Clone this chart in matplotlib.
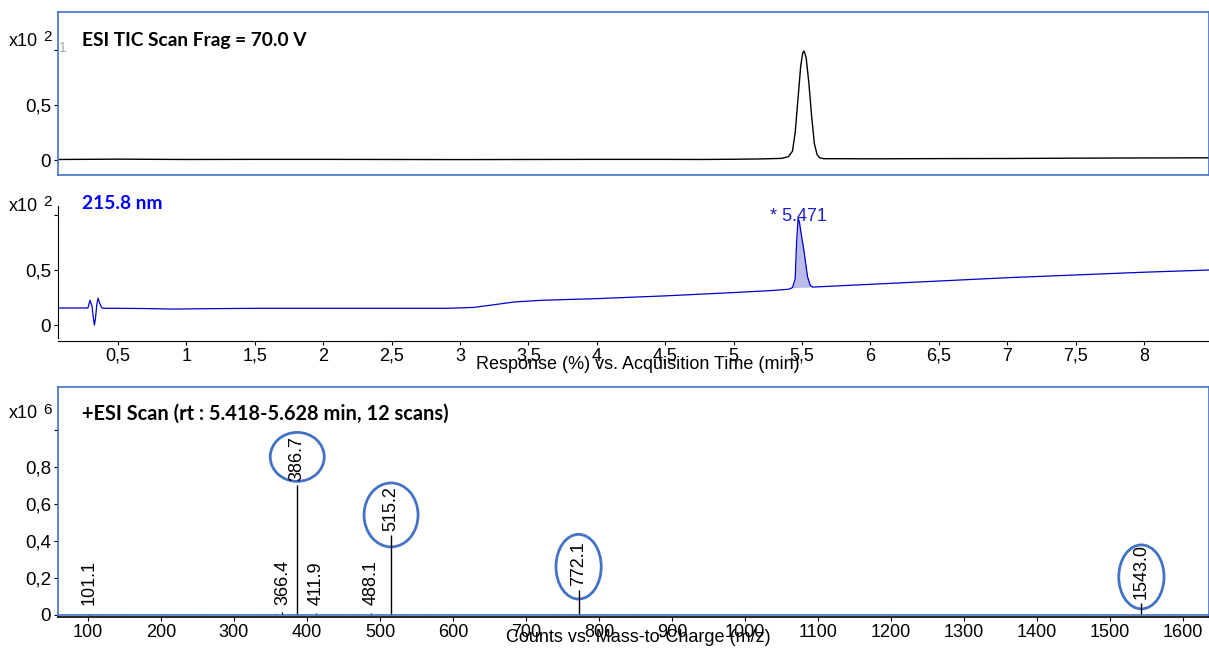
import matplotlib
matplotlib.use("Agg")
import matplotlib.pyplot as plt
from matplotlib.patches import Ellipse

# ---------------- data ----------------
tic_time = [0.06, 0.5, 1.0, 1.5, 2.0, 2.5, 3.0, 3.5, 4.0, 4.5, 4.75, 5.0, 5.2, 5.35, 5.40,
            5.43, 5.45, 5.47, 5.49, 5.505, 5.515, 5.53, 5.55, 5.57, 5.59, 5.61, 5.63, 5.66,
            5.8, 6.0, 6.5, 7.0, 7.5, 8.0, 8.475]
tic_resp = [0.005, 0.008, 0.005, 0.006, 0.006, 0.005, 0.004, 0.005, 0.006, 0.006, 0.005, 0.007,
            0.010, 0.015, 0.03, 0.08, 0.25, 0.55, 0.85, 0.975, 0.99, 0.93, 0.70, 0.40, 0.15,
            0.05, 0.02, 0.012, 0.012, 0.011, 0.013, 0.014, 0.017, 0.019, 0.02]

uv_time = [0.06, 0.28, 0.295, 0.31, 0.32, 0.327, 0.335, 0.345, 0.354, 0.365, 0.38, 0.39, 0.5,
           0.7, 0.9, 1.1, 1.5, 2.0, 2.5, 2.9, 3.1, 3.25, 3.4, 3.6, 4.0, 4.5, 4.75, 5.0, 5.3,
           5.40, 5.43, 5.45, 5.46, 5.471, 5.48, 5.50, 5.51, 5.54, 5.56, 5.58, 6.0, 6.5, 7.0,
           7.5, 8.0, 8.475]
uv_resp = [0.155, 0.155, 0.225, 0.17, 0.06, 0.0, 0.06, 0.19, 0.245, 0.2, 0.16, 0.152, 0.152,
           0.15, 0.145, 0.148, 0.152, 0.152, 0.152, 0.152, 0.16, 0.185, 0.21, 0.225, 0.24, 0.265,
           0.28, 0.295, 0.315, 0.325, 0.34, 0.42, 0.75, 0.97, 0.94, 0.78, 0.71, 0.44, 0.36, 0.345,
           0.37, 0.40, 0.43, 0.455, 0.48, 0.50]
uv_peak_rt = 5.471
uv_peak_start, uv_peak_end = 5.43, 5.58

ms_mz = [101.1, 366.4, 386.7, 411.9, 488.1, 515.2, 772.1, 1543.0]
ms_counts = [0.006, 0.015, 0.70, 0.008, 0.008, 0.43, 0.135, 0.065]
ms_labels = ["101.1", "366.4", "386.7", "411.9", "488.1", "515.2", "772.1", "1543.0"]
circled = ["386.7", "515.2", "772.1", "1543.0"]

noise_mz = [120, 150, 200, 260, 300, 340, 350, 358, 375, 395, 420, 430, 450, 470, 500, 530,
            560, 600, 700, 740, 760, 790, 810, 850, 1000, 1200, 1460, 1500, 1530, 1560, 1580]
noise_counts = [0.004, 0.003, 0.002, 0.003, 0.003, 0.005, 0.006, 0.007, 0.006, 0.006, 0.006,
                0.005, 0.005, 0.005, 0.005, 0.006, 0.004, 0.003, 0.004, 0.005, 0.006, 0.006,
                0.005, 0.003, 0.002, 0.002, 0.003, 0.004, 0.006, 0.005, 0.004]

time_ticks = [0.5, 1, 1.5, 2, 2.5, 3, 3.5, 4, 4.5, 5, 5.5, 6, 6.5, 7, 7.5, 8]
time_ticklabels = ["0,5", "1", "1,5", "2", "2,5", "3", "3,5", "4", "4,5", "5", "5,5", "6",
                   "6,5", "7", "7,5", "8"]
resp_ticks = [0, 0.5, 1]
resp_ticklabels = ["0", "0,5", ""]
mz_ticks = list(range(100, 1700, 100))
cnt_ticks = [0, 0.2, 0.4, 0.6, 0.8, 1.0]
cnt_ticklabels = ["0", "0,2", "0,4", "0,6", "0,8", ""]

# ---------------- figure ----------------
W, H = 1209, 648
fig = plt.figure(figsize=(W / 100, H / 100), dpi=100)
plt.rcParams['font.family'] = ['Liberation Sans', 'DejaVu Sans']
BORDER = "#4472C4"
TFONT = "Lato"
FS = 13
TFS = 13.8


def box(l, t, r, b):
    return [l / W, (H - b) / H, (r - l) / W, (b - t) / H]


ax1 = fig.add_axes(box(58, 12, 1209, 175))
ax2 = fig.add_axes(box(58, 190, 1209, 341))
ax3 = fig.add_axes(box(58, 387, 1209, 617))

# TIC panel
ax1.plot(tic_time, tic_resp, color="black", lw=1.0)
ax1.set_xlim(0.061, 8.475)
ax1.set_ylim(-0.136, 1.345)
ax1.set_xticks([])
ax1.set_yticks(resp_ticks)
ax1.set_yticklabels(resp_ticklabels)
for s in ax1.spines.values():
    s.set_color(BORDER)
    s.set_linewidth(1.2)
ax1.tick_params(axis='y', labelsize=FS + 0.5, length=3, pad=2)
ax1.text(0.021, 0.825, "ESI TIC Scan Frag = 70.0 V", transform=ax1.transAxes,
         fontfamily=TFONT, fontweight="bold", fontsize=TFS, va="center", ha="left")

# UV panel
seg_t = [t for t in uv_time if uv_peak_start <= t <= uv_peak_end]
seg_v = [v for t, v in zip(uv_time, uv_resp) if uv_peak_start <= t <= uv_peak_end]
b0 = seg_v[0]
b1 = seg_v[-1]
base = [b0 + (b1 - b0) * (t - seg_t[0]) / (seg_t[-1] - seg_t[0]) for t in seg_t]
ax2.fill_between(seg_t, base, seg_v, color="#B4B4E6", alpha=0.9, lw=0)
ax2.plot(uv_time, uv_resp, color="#0000CC", lw=0.9)
ax2.text(uv_peak_rt, 0.99, "* 5.471", color="#1E1ECC", fontsize=FS, ha="center", va="center")
ax2.set_xlim(0.061, 8.475)
ax2.set_ylim(-0.145, 1.227)
ax2.set_xticks(time_ticks)
ax2.set_xticklabels(time_ticklabels)
ax2.set_yticks(resp_ticks)
ax2.set_yticklabels(resp_ticklabels)
ax2.spines['top'].set_visible(False)
ax2.spines['right'].set_visible(False)
ax2.spines['left'].set_bounds(-0.12, 1.08)
ax2.tick_params(axis='x', labelsize=FS, length=3, pad=2)
ax2.tick_params(axis='y', labelsize=FS + 0.5, length=3, pad=2)
ax2.text(0.021, 0.912, "215.8 nm", transform=ax2.transAxes, color="#0000FF",
         fontfamily=TFONT, fontweight="bold", fontsize=TFS, va="center", ha="left")
fig.text(638 / W, 1 - 364 / H, "Response (%) vs. Acquisition Time (min)", fontsize=FS,
         ha="center", va="center")

# MS panel
ax3.vlines(noise_mz, 0, noise_counts, color="#AAAAAA", lw=0.8)
ax3.vlines(ms_mz, 0, ms_counts, color="black", lw=1.0)
ax3.set_xlim(59, 1635.6)
ax3.set_ylim(-0.012, 1.232)
ax3.set_xticks(mz_ticks)
ax3.set_yticks(cnt_ticks)
ax3.set_yticklabels(cnt_ticklabels)
for s in ax3.spines.values():
    s.set_color(BORDER)
    s.set_linewidth(1.2)
ax3.spines['bottom'].set_color("black")
ax3.axhline(0.0, color=BORDER, lw=1.2)
ax3.tick_params(axis='x', labelsize=FS, length=3, pad=2)
ax3.tick_params(axis='y', labelsize=FS + 0.5, length=3, pad=2)
for mz, c, lab in zip(ms_mz, ms_counts, ms_labels):
    ax3.annotate(lab, (mz, max(c, 0.03)), xytext=(0, 3), textcoords="offset points",
                 rotation=90, ha="center", va="bottom", fontsize=FS)
ellipse_specs = {"386.7": (0.854, 74, 0.265), "515.2": (0.54, 74, 0.346),
                 "772.1": (0.26, 62, 0.35), "1543.0": (0.205, 62, 0.346)}
for mz, lab in zip(ms_mz, ms_labels):
    if lab in circled:
        cy, w, h = ellipse_specs[lab]
        ax3.add_patch(Ellipse((mz, cy), w, h, fill=False, edgecolor=BORDER, lw=2.0,
                              clip_on=False))
ax3.text(0.021, 0.885, "+ESI Scan (rt : 5.418-5.628 min, 12 scans)", transform=ax3.transAxes,
         fontfamily=TFONT, fontweight="bold", fontsize=TFS + 0.6, va="center", ha="left")
fig.text(638 / W, 1 - 638 / H, "Counts vs. Mass-to-Charge (m/z)", fontsize=FS,
         ha="center", va="center")

# multiplier labels
for ytop, exp in [(41, "2"), (206, "2"), (414, "6")]:
    fig.text(9 / W, 1 - ytop / H, "x10", fontsize=FS, ha="left", va="center")
    fig.text(43 / W, 1 - (ytop - 4) / H, exp, fontsize=FS - 2, ha="left", va="center")
fig.text(59 / W, 1 - 48 / H, "1", fontsize=FS - 3, color="#AAAAAA", ha="left", va="center")

fig.savefig("out.png", dpi=100)
